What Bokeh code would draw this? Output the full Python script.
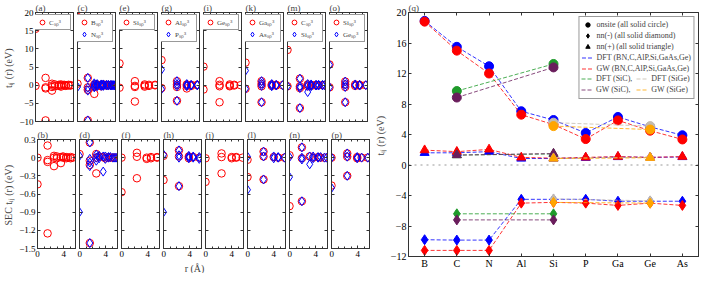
from bokeh.plotting import figure
from bokeh.layouts import row, column
from bokeh.models import (Range1d, FactorRange, FixedTicker, LinearAxis, CategoricalAxis,
                          Legend, LegendItem, Span)
from bokeh.embed import file_html
from bokeh.resources import INLINE

FONT = "Liberation Serif"
RED = "#ff0000"
BLUE = "#0000ff"
INK = "#333333"

# ---------------- small panels: hopping t_ij(r) (top) and SEC (bottom) ----------------
TOP_TICKS = [-10, -5, 0, 5, 10, 15, 20]
BOT_TICKS = [-1.5, -1.2, -0.9, -0.6, -0.3, 0, 0.3]
R_TICKS = [0, 4]
R_MINOR = [1, 2, 3, 5]

# (a)/(b) C
a_red_r = [0, 0, 1.54, 1.54, 1.54, 1.54, 2.52, 2.52, 2.52, 2.52, 2.96, 2.96, 3.57, 3.57, 3.89, 3.89, 3.89, 4.37, 4.37, 4.63, 4.63, 5.05, 5.05, 5.36, 5.36]
a_red_t = [15.5, -0.2, 2.0, -0.6, -0.9, -9.7, 0.4, -0.1, -0.5, -1.5, 0.2, -0.3, 0.1, -0.2, 0.2, -0.1, -0.4, 0.1, -0.1, 0.0, -0.2, 0.1, -0.1, 0.0, -0.1]
b_red_r = [0, 0, 1.54, 1.54, 1.54, 1.54, 2.52, 2.52, 2.52, 2.96, 2.96, 3.57, 3.57, 3.89, 3.89, 4.37, 4.37, 4.63, 5.05, 5.05, 5.36]
b_red_s = [0.0, -0.44, 0.2, -0.04, -0.07, -1.25, 0.03, 0.0, -0.14, 0.02, -0.01, 0.01, -0.09, 0.02, 0.0, 0.01, -0.01, 0.0, 0.01, -0.01, 0.0]

# (c)/(d) BN : B red, N blue
c_red_r = [0, 0, 1.57, 1.57, 1.57, 1.57, 2.56, 2.56, 2.56, 3.0, 3.0, 3.62, 3.62, 3.94, 3.94, 4.43, 4.43, 4.72, 5.11, 5.11, 5.42, 5.72]
c_red_t = [18.8, 0.4, 2.0, -0.6, -1.3, -9.7, -2.4, 0.2, -0.3, 0.2, -0.2, 0.1, -0.3, 0.2, -0.1, 0.1, -0.1, 0.0, 0.1, -0.1, 0.0, 0.0]
c_blue_r = [0, 0, 1.57, 1.57, 1.57, 1.57, 2.56, 2.56, 2.56, 2.56, 3.0, 3.0, 3.0, 3.62, 3.62, 3.62, 3.94, 3.94, 3.94, 4.43, 4.43, 4.72, 4.72, 5.11, 5.11, 5.42, 5.42, 5.72, 5.72]
c_blue_t = [12.9, -0.5, 2.0, -0.7, -1.5, -9.7, 0.5, 0.1, -0.3, -0.6, 0.3, 0.0, -0.3, 0.2, 0.0, -0.2, 0.2, 0.0, -0.2, 0.1, -0.1, 0.1, -0.1, 0.1, -0.1, 0.05, -0.05, 0.0, -0.1]
d_red_r = [0, 1.57, 1.57, 1.57, 1.57, 2.56, 2.56, 2.56, 3.0, 3.62, 3.94, 4.43, 4.72, 5.11, 5.42]
d_red_s = [0.06, 0.25, -0.05, -0.12, -1.41, 0.06, -0.26, 0.0, 0.02, 0.01, -0.01, 0.01, 0.0, 0.0, 0.0]
d_blue_r = [0, 0, 1.57, 1.57, 1.57, 1.57, 1.57, 2.56, 2.56, 2.56, 3.0, 3.0, 3.62, 3.62, 3.94, 3.94, 4.43, 4.43, 4.72, 5.11, 5.42, 5.72]
d_blue_s = [0.03, -0.9, 0.25, -0.02, -0.08, -0.14, -1.41, 0.05, 0.0, -0.05, 0.03, -0.01, 0.02, -0.23, 0.02, -0.02, 0.01, 0.0, 0.01, 0.0, 0.0, 0.0]

# (e)/(f) Si
e_red_r = [0, 0, 2.35, 2.35, 2.35, 2.35, 3.84, 3.84, 3.84, 4.5, 4.5, 5.43, 5.43]
e_red_t = [6.0, -0.7, 1.1, -0.2, -0.5, -4.5, 0.2, -0.1, -0.4, 0.1, -0.2, 0.1, -0.05]
f_red_r = [0, 0, 2.35, 2.35, 2.35, 3.84, 3.84, 4.5, 4.5, 5.43, 5.43]
f_red_s = [0.0, -0.57, 0.08, 0.015, -0.34, 0.0, -0.02, 0.01, -0.01, 0.0, 0.01]

# (g)/(h) AlP : Al red, P blue
g_red_r = [0, 0, 2.36, 2.36, 2.36, 2.36, 3.86, 3.86, 3.86, 4.53, 4.53, 5.46, 5.46]
g_red_t = [6.9, -0.8, 1.1, 0.1, -0.5, -4.3, 0.2, -0.2, -0.9, 0.1, -0.2, 0.1, 0.0]
g_blue_r = [0, 0, 2.36, 2.36, 2.36, 2.36, 3.86, 3.86, 3.86, 4.53, 4.53, 5.46, 5.46]
g_blue_t = [4.3, -1.1, 1.1, 0.3, -0.3, -4.3, 0.3, 0.0, -0.3, 0.1, -0.1, 0.1, -0.05]
h_red_r = [0, 0, 2.36, 2.36, 2.36, 3.86, 3.86, 4.53, 5.46]
h_red_s = [0.03, -0.37, 0.12, 0.02, -0.47, 0.02, -0.01, 0.01, 0.0]
h_blue_r = [0, 0, 2.36, 2.36, 2.36, 2.36, 3.86, 3.86, 3.86, 4.53, 4.53, 5.46, 5.46]
h_blue_s = [0.05, -0.9, 0.12, 0.04, 0.0, -0.47, 0.03, 0.01, -0.01, 0.02, 0.0, 0.01, -0.02]

# (i)/(j) Ge
i_red_r = [0, 0, 2.45, 2.45, 2.45, 2.45, 4.0, 4.0, 4.0, 4.69, 4.69, 5.66]
i_red_t = [5.1, -1.2, 1.1, 0.1, -0.3, -4.7, 0.2, -0.1, -0.3, 0.1, -0.1, 0.0]
j_red_r = [0, 0, 2.45, 2.45, 2.45, 4.0, 4.0, 4.69, 4.69, 5.66]
j_red_s = [-0.01, -0.4, 0.07, 0.01, -0.26, 0.01, -0.01, 0.0, 0.01, 0.0]

# (k)/(l) GaAs : Ga red, As blue
k_red_r = [0, 0, 2.45, 2.45, 2.45, 2.45, 4.0, 4.0, 4.69, 4.69, 5.65]
k_red_t = [6.2, -1.0, 1.1, 0.3, -0.3, -4.7, 0.2, -0.2, 0.1, -0.1, 0.0]
k_blue_r = [0, 0, 2.45, 2.45, 2.45, 2.45, 4.0, 4.0, 4.0, 4.69, 4.69, 5.65]
k_blue_t = [4.0, -1.0, 1.1, 0.4, -0.2, -4.7, 0.3, 0.0, -0.3, 0.1, -0.1, 0.0]
l_red_r = [0, 0, 2.45, 2.45, 2.45, 4.0, 4.69, 5.65]
l_red_s = [-0.035, -0.32, 0.1, 0.02, -0.36, 0.01, 0.0, 0.0]
l_blue_r = [0, 0, 2.45, 2.45, 2.45, 4.0, 4.0, 4.69, 4.69, 5.65]
l_blue_s = [0.016, -0.53, 0.1, 0.02, -0.36, 0.02, -0.01, 0.01, 0.0, 0.0]

# (m)/(n) SiC : C red, Si blue
m_red_r = [0, 0, 1.89, 1.89, 1.89, 1.89, 3.08, 3.08, 3.61, 3.61, 4.36, 4.36, 4.75, 5.34, 5.66]
m_red_t = [9.7, -0.3, 1.8, -0.3, -0.8, -6.3, 0.2, -0.3, 0.1, -0.2, 0.1, -0.1, 0.0, 0.0, 0.0]
m_blue_r = [0, 0, 1.89, 1.89, 1.89, 1.89, 3.08, 3.08, 3.08, 3.61, 3.61, 3.61, 4.36, 4.36, 4.75, 4.75, 5.34, 5.34, 5.66]
m_blue_t = [13.3, -0.3, 1.8, -0.3, -0.8, -6.3, -1.9, 0.3, -0.2, 0.2, 0.0, -0.3, 0.1, -0.1, 0.1, -0.1, 0.05, -0.05, 0.0]
n_red_r = [0, 0, 1.89, 1.89, 1.89, 3.08, 3.61, 4.36, 4.75, 5.34]
n_red_s = [0.04, -0.8, 0.17, -0.01, -0.72, 0.02, 0.0, 0.01, 0.0, 0.0]
n_blue_r = [0, 0, 1.89, 1.89, 1.89, 1.89, 3.08, 3.08, 3.61, 3.61, 4.36, 4.36, 4.75, 5.34, 5.66]
n_blue_s = [0.01, -0.32, 0.17, 0.0, -0.03, -0.72, -0.11, 0.02, 0.02, -0.01, 0.01, 0.0, 0.01, 0.0, 0.0]

# (o)/(p) SiGe : Si red, Ge blue
o_red_r = [0, 0, 2.40, 2.40, 2.40, 2.40, 3.92, 3.92, 4.6, 4.6, 5.54]
o_red_t = [5.7, -0.6, 1.0, 0.2, -0.5, -4.7, 0.2, -0.2, 0.1, -0.1, 0.0]
o_blue_r = [0, 0, 2.40, 2.40, 2.40, 2.40, 3.92, 3.92, 4.6, 4.6, 5.54]
o_blue_t = [5.6, -0.6, 1.0, 0.2, -0.5, -4.7, 0.2, -0.1, 0.1, -0.1, 0.0]
p_red_r = [0, 0, 2.40, 2.40, 2.40, 3.92, 3.92, 4.6, 5.54]
p_red_s = [0.0, -0.46, 0.07, 0.016, -0.3, 0.01, -0.01, 0.0, 0.0]
p_blue_r = [0, 0, 2.40, 2.40, 2.40, 3.92, 3.92, 4.6, 5.54]
p_blue_s = [0.0, -0.5, 0.07, 0.016, -0.3, 0.01, -0.01, 0.0, 0.0]

# ---------------- panel (q) ----------------
elements = ["B", "C", "N", "Al", "Si", "P", "Ga", "Ge", "As"]
dft_onsite = [18.9, 15.5, 12.95, 7.05, 5.9, 4.2, 6.3, 5.0, 3.9]
gw_onsite = [18.8, 15.0, 12.0, 6.6, 5.3, 3.4, 5.85, 4.5, 3.35]
dft_nnm = [-9.8, -9.85, -9.85, -4.5, -4.5, -4.5, -4.75, -4.75, -4.75]
gw_nnm = [-11.2, -11.2, -11.2, -5.0, -4.9, -5.0, -5.3, -5.0, -5.3]
dft_nnp = [1.6, 1.6, 1.75, 0.85, 0.85, 0.95, 1.05, 1.0, 1.05]
gw_nnp = [1.95, 1.75, 2.05, 1.0, 0.9, 1.0, 1.1, 1.0, 1.1]

sic_elements = ["C", "Si"]
sic_dft_onsite = [9.7, 13.25]
sic_gw_onsite = [8.85, 12.8]
sic_dft_nnm = [-6.4, -6.4]
sic_gw_nnm = [-7.2, -7.2]
sic_dft_nnp = [1.3, 1.45]
sic_gw_nnp = [1.3, 1.5]

sige_elements = ["Si", "Ge"]
sige_dft_onsite = [5.55, 5.1]
sige_gw_onsite = [5.1, 4.65]
sige_dft_nnm = [-4.45, -4.7]
sige_gw_nnm = [-4.9, -5.0]
sige_dft_nnp = [0.9, 1.0]
sige_gw_nnp = [0.85, 0.95]

Q_TICKS = [-12, -8, -4, 0, 4, 8, 12, 16, 20]


def style_axis(ax, size="9px"):
    ax.axis_line_color = INK
    ax.major_tick_line_color = INK
    ax.minor_tick_line_color = INK
    ax.major_tick_in = 3
    ax.major_tick_out = 0
    ax.minor_tick_in = 2
    ax.minor_tick_out = 0
    ax.major_label_text_font = FONT
    ax.major_label_text_color = "black"
    ax.major_label_text_font_size = size
    ax.major_label_standoff = 2
    ax.axis_label_text_font = FONT
    ax.axis_label_text_font_style = "normal"
    ax.axis_label_text_font_size = "10px"
    ax.axis_label_standoff = 2


def tick_only_axis(positions, length=3):
    # axis that only draws inward tick marks (minor ticks carry no labels)
    ax = LinearAxis(ticker=FixedTicker(ticks=[], minor_ticks=positions))
    style_axis(ax)
    ax.minor_tick_in = length
    ax.major_label_standoff = 0
    return ax


def style_title(p):
    p.title.text_font = FONT
    p.title.text_font_style = "normal"
    p.title.text_font_size = "9px"
    p.title.align = "left"
    p.title.standoff = 0
    p.title.offset = 0


def small_panel(title, red_r, red_v, blue_r, blue_v, names, top, first, ylabel=None):
    p = figure(title=title, x_range=Range1d(0, 5.8),
               y_range=Range1d(-10, 20) if top else Range1d(-1.5, 0.3),
               frame_width=38, frame_height=109,
               min_border_left=28 if first else 2, min_border_right=2,
               min_border_top=11, min_border_bottom=6 if top else 12,
               output_backend="svg", toolbar_location=None,
               x_axis_location=None, y_axis_location=None)
    style_title(p)
    p.outline_line_color = INK
    p.grid.visible = False
    yt = TOP_TICKS if top else BOT_TICKS
    if first:
        left = LinearAxis(ticker=FixedTicker(ticks=yt), axis_label=ylabel)
        style_axis(left)
        if not top:
            left.major_label_overrides = {0: "0"}
    else:
        left = tick_only_axis(yt)
    p.add_layout(left, "left")
    p.add_layout(tick_only_axis(yt), "right")
    if top:
        p.add_layout(tick_only_axis(R_TICKS + R_MINOR, 2), "below")
    else:
        below = LinearAxis(ticker=FixedTicker(ticks=R_TICKS, minor_ticks=R_MINOR))
        style_axis(below)
        p.add_layout(below, "below")
    p.add_layout(tick_only_axis(R_TICKS + R_MINOR, 2), "above")

    r1 = p.scatter(red_r, red_v, marker="circle", size=7.5, fill_color=None,
                   line_color=RED, line_width=1)
    items = [LegendItem(label=names[0], renderers=[r1])]
    if blue_r is not None:
        r2 = p.scatter(blue_r, blue_v, marker="diamond", size=9, fill_color=None,
                       line_color=BLUE, line_width=1)
        items.append(LegendItem(label=names[1], renderers=[r2]))
    if top:
        lg = Legend(items=items, location="top_right", margin=2, padding=1,
                    spacing=0, glyph_width=12, glyph_height=12, label_height=11,
                    label_standoff=1, label_text_font=FONT, label_text_font_size="7px",
                    border_line_color=INK, border_line_width=1,
                    background_fill_alpha=1.0)
        p.add_layout(lg)
    return p


YL_TOP = "t\u1d62\u2c7c (r)  (eV)"
YL_BOT = "SEC t\u1d62\u2c7c (r)  (eV)"
SP = "\u209b\u209a\u00b3"

top_figs = [
    small_panel("(a)", a_red_r, a_red_t, None, None, ["C" + SP], True, True, YL_TOP),
    small_panel("(c)", c_red_r, c_red_t, c_blue_r, c_blue_t, ["B" + SP, "N" + SP], True, False),
    small_panel("(e)", e_red_r, e_red_t, None, None, ["Si" + SP], True, False),
    small_panel("(g)", g_red_r, g_red_t, g_blue_r, g_blue_t, ["Al" + SP, "P" + SP], True, False),
    small_panel("(i)", i_red_r, i_red_t, None, None, ["Ge" + SP], True, False),
    small_panel("(k)", k_red_r, k_red_t, k_blue_r, k_blue_t, ["Ga" + SP, "As" + SP], True, False),
    small_panel("(m)", m_red_r, m_red_t, m_blue_r, m_blue_t, ["C" + SP, "Si" + SP], True, False),
    small_panel("(o)", o_red_r, o_red_t, o_blue_r, o_blue_t, ["Si" + SP, "Ge" + SP], True, False),
]
bot_figs = [
    small_panel("(b)", b_red_r, b_red_s, None, None, ["C"], False, True, YL_BOT),
    small_panel("(d)", d_red_r, d_red_s, d_blue_r, d_blue_s, ["B", "N"], False, False),
    small_panel("(f)", f_red_r, f_red_s, None, None, ["Si"], False, False),
    small_panel("(h)", h_red_r, h_red_s, h_blue_r, h_blue_s, ["Al", "P"], False, False),
    small_panel("(j)", j_red_r, j_red_s, None, None, ["Ge"], False, False),
    small_panel("(l)", l_red_r, l_red_s, l_blue_r, l_blue_s, ["Ga", "As"], False, False),
    small_panel("(n)", n_red_r, n_red_s, n_blue_r, n_blue_s, ["C", "Si"], False, False),
    small_panel("(p)", p_red_r, p_red_s, p_blue_r, p_blue_s, ["Si", "Ge"], False, False),
]

xl = figure(width=362, height=10, min_border_left=28, min_border_right=2,
            min_border_top=0, min_border_bottom=0, title="r (\u00c5)", title_location="below",
            output_backend="svg", toolbar_location=None,
            x_axis_location=None, y_axis_location=None)
xl.outline_line_color = None
xl.grid.visible = False
xl.title.text_font = FONT
xl.title.text_font_style = "normal"
xl.title.text_font_size = "10px"
xl.title.align = "center"
xl.title.standoff = 0

left_block = column(row(*top_figs, spacing=0), row(*bot_figs, spacing=0), xl, spacing=0)

# ---------------- (q) ----------------
q = figure(title="(q)", x_range=FactorRange(*elements), y_range=Range1d(-12, 20),
           frame_width=290, frame_height=244, min_border_left=33, min_border_right=3,
           min_border_top=11, min_border_bottom=13,
           output_backend="svg", toolbar_location=None,
           x_axis_location=None, y_axis_location=None)
style_title(q)
q.outline_line_color = INK
q.grid.visible = False

qa = LinearAxis(ticker=FixedTicker(ticks=Q_TICKS), axis_label="t\u1d62\u2c7c (r)  (eV)")
style_axis(qa, "10px")
q.add_layout(qa, "left")
q.add_layout(tick_only_axis(Q_TICKS), "right")
qb = CategoricalAxis()
style_axis(qb, "10px")
qb.major_label_standoff = 1
q.add_layout(qb, "below")
# top tick marks at the category centres (synthetic coordinates i + 0.5)
q.add_layout(tick_only_axis([i + 0.5 for i in range(len(elements))], 3), "above")

q.add_layout(Span(location=0, dimension="width", line_color="#999999",
                  line_dash="dotted", line_width=1, level="underlay"))


def series(xs, on, nm, npl, color, dash="4 2"):
    ln = None
    for ys, mk, sz in ((on, "circle", 9), (nm, "diamond", 10), (npl, "triangle", 9)):
        l = q.line(xs, ys, line_color=color, line_dash=dash, line_width=1, line_alpha=0.8)
        if ln is None:
            ln = l
        q.scatter(xs, ys, marker=mk, size=sz, color=color)
    return ln


GREEN = "#1f9a2a"
PURPLE = "#6a1d5c"
GRAY = "#c4bcae"
ORANGE = "#ffa500"

l_dft = series(elements, dft_onsite, dft_nnm, dft_nnp, BLUE)
l_gw = series(elements, gw_onsite, gw_nnm, gw_nnp, RED)
l_sic_dft = series(sic_elements, sic_dft_onsite, sic_dft_nnm, sic_dft_nnp, GREEN)
l_sic_gw = series(sic_elements, sic_gw_onsite, sic_gw_nnm, sic_gw_nnp, PURPLE)
l_sige_dft = series(sige_elements, sige_dft_onsite, sige_dft_nnm, sige_dft_nnp, GRAY)
l_sige_gw = series(sige_elements, sige_gw_onsite, sige_gw_nnm, sige_gw_nnp, ORANGE)

# legend proxies (NaN values are not drawn in the plot area)
nan = float("nan")
k_circ = q.scatter(x=["B"], y=[nan], marker="circle", color="black")
k_diam = q.scatter(x=["B"], y=[nan], marker="diamond", color="black")
k_tri = q.scatter(x=["B"], y=[nan], marker="triangle", color="black")
blank = q.line(x=["B"], y=[nan], line_alpha=0)

leg_font = "8px"
legend1 = Legend(items=[
    LegendItem(label="onsite (all solid circle)", renderers=[k_circ]),
    LegendItem(label="nn(-) (all solid diamond)", renderers=[k_diam]),
    LegendItem(label="nn(+) (all solid triangle)", renderers=[k_tri]),
    LegendItem(label="DFT (BN,C,AlP,Si,GaAs,Ge)", renderers=[l_dft]),
    LegendItem(label="GW (BN,C,AlP,Si,GaAs,Ge)", renderers=[l_gw]),
    LegendItem(label=" ", renderers=[blank]),
    LegendItem(label=" ", renderers=[blank]),
], location="top_right", margin=4, padding=2, spacing=0, glyph_width=12, glyph_height=11,
    label_height=11, label_standoff=3, label_text_font=FONT, label_text_font_size=leg_font,
    border_line_color=INK, border_line_width=1, background_fill_color="white",
    background_fill_alpha=1.0)
q.add_layout(legend1)

legend2 = Legend(items=[
    LegendItem(label="DFT (SiC),  ", renderers=[l_sic_dft]),
    LegendItem(label="GW (SiC),  ", renderers=[l_sic_gw]),
    LegendItem(label="DFT (SiGe)", renderers=[l_sige_dft]),
    LegendItem(label="GW (SiGe)", renderers=[l_sige_gw]),
], location=(173, 161), ncols=2, margin=0, padding=0, spacing=0, glyph_width=12, glyph_height=11,
    label_height=11, label_standoff=3, label_text_font=FONT, label_text_font_size=leg_font,
    border_line_alpha=0, background_fill_alpha=0)
q.add_layout(legend2)

layout = row(left_block, q, spacing=0)

open("out.html", "w").write(file_html(layout, INLINE))
